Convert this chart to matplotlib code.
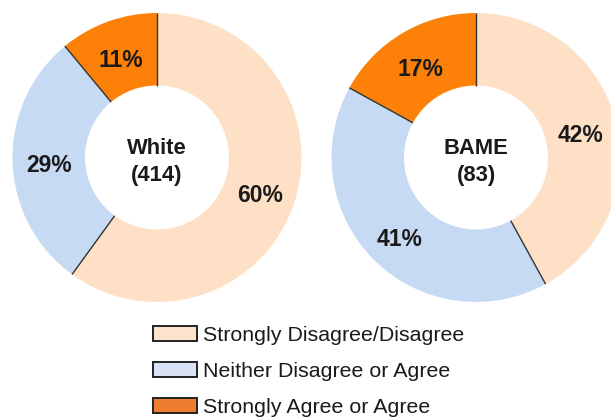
import numpy as np
import matplotlib
matplotlib.use("Agg")
import matplotlib.pyplot as plt
from matplotlib.patches import Patch

plt.rcParams['font.family'] = ['Liberation Sans', 'DejaVu Sans']

# Survey responses by group (percent)
categories = ["Strongly Disagree/Disagree", "Neither Disagree or Agree", "Strongly Agree or Agree"]
groups = ["White", "BAME"]
group_sizes = [414, 83]
white_pct = [60, 29, 11]
bame_pct = [42, 41, 17]

pie_colors = ["#FDE0C5", "#C7DAF4", "#FD8108"]
legend_colors = ["#FCE4CC", "#DAE3F3", "#ED7D31"]
text_color = "#1A1A1A"

W, H = 611, 420
fig = plt.figure(figsize=(W / 100, H / 100), dpi=100)
ax = fig.add_axes([0, 0, 1, 1])

R_OUT = 144.5
R_IN = 72.0
centers = [(157, H - 157.5), (476, H - 157.5)]

for values, name, n, (cx, cy) in zip([white_pct, bame_pct], groups, group_sizes, centers):
    ax.pie(values, colors=pie_colors, startangle=90, counterclock=False,
           radius=R_OUT, center=(cx, cy), frame=True,
           wedgeprops=dict(width=R_OUT - R_IN, linewidth=0))
    total = float(sum(values))
    # radial separators between wedges
    cum = np.concatenate([[0], np.cumsum(values)[:-1]]) / total
    for c in cum:
        ang = np.deg2rad(90 - c * 360)
        ax.plot([cx + R_IN * np.cos(ang), cx + R_OUT * np.cos(ang)],
                [cy + R_IN * np.sin(ang), cy + R_OUT * np.sin(ang)],
                color="#333333", lw=1.0, solid_capstyle='butt')
    # percentage labels around the middle of the ring
    r_lab = 0.5 * (R_IN + R_OUT)
    for v, start in zip(values, cum):
        mid = np.deg2rad(90 - (start + v / total / 2) * 360)
        ax.text(cx + r_lab * np.cos(mid), cy + r_lab * np.sin(mid) - 5, f"{v}%",
                ha='center', va='center', fontsize=16.5, fontweight='bold',
                color=text_color)
    ax.text(cx, cy - 4.5, f"{name}\n({n})", ha='center', va='center',
            fontsize=15.8, fontweight='bold', color=text_color, linespacing=1.4)

ax.set_xlim(0, W)
ax.set_ylim(0, H)
ax.set_aspect('equal')
ax.axis('off')

handles = [Patch(facecolor=c, edgecolor="#222222", linewidth=1.4) for c in legend_colors]
fig.legend(handles, categories, loc='upper left',
           bbox_to_anchor=(153 / W, 1 - 326 / H), frameon=False,
           fontsize=15.4, handlelength=2.05, handleheight=0.7,
           handletextpad=0.3, labelspacing=0.8, borderpad=0, borderaxespad=0,
           labelcolor=text_color)

fig.savefig("out.png", dpi=100, facecolor="white")
